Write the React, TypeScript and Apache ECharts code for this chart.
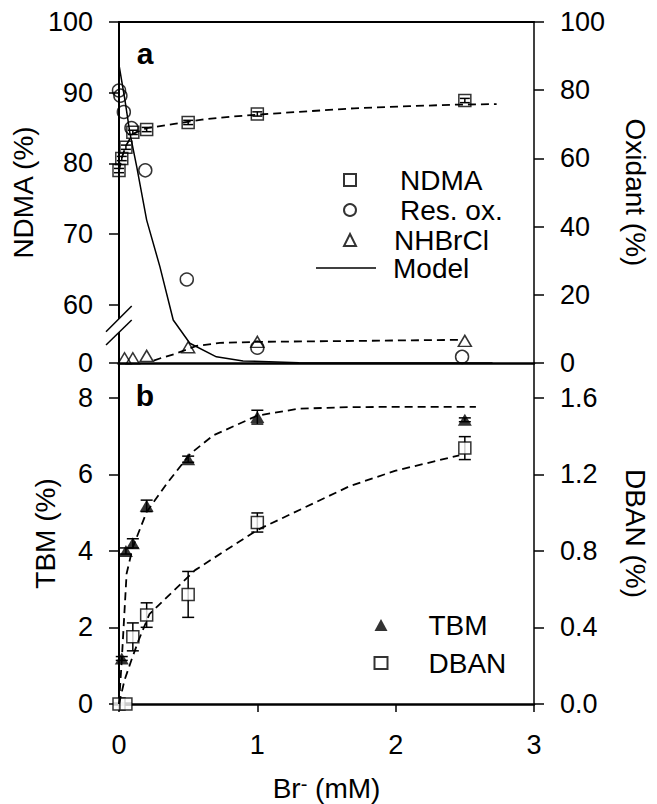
import React, { useEffect, useRef } from "react";
import * as echarts from "echarts";

// ---------- Panel a data ----------
const xNdma = [0, 0.02, 0.05, 0.1, 0.2, 0.5, 1.0, 2.5];
const yNdma = [79.0, 80.7, 82.3, 84.4, 84.8, 85.8, 87.0, 88.9];
const errNdma = [0.3, 0.3, 0.3, 0.3, 0.3, 0.3, 0.3, 0.3];

const xNdmaFit = [0, 0.02, 0.05, 0.1, 0.2, 0.4, 0.6, 0.8, 1.0, 1.3, 1.7, 2.1, 2.4, 2.73];
const yNdmaFit = [79.0, 80.8, 82.5, 84.2, 85.0, 85.6, 86.2, 86.6, 86.9, 87.3, 87.8, 88.1, 88.3, 88.4];

const xRes = [0, 0.01, 0.035, 0.09, 0.19, 0.49, 1.0, 2.48];
const yRes = [79.9, 78.4, 73.6, 68.9, 56.5, 24.5, 4.5, 1.8];

const xNh = [0.04, 0.1, 0.2, 0.5, 1.0, 2.5];
const yNh = [1.4, 1.4, 2.1, 4.6, 6.2, 6.5];

const xNhFit = [0.25, 0.3, 0.4, 0.56, 0.73, 1.0, 1.5, 2.0, 2.47];
const yNhFit = [0.7, 1.4, 2.6, 5.0, 5.9, 6.2, 6.4, 6.6, 6.8];

const xModel = [0, 0.043, 0.079, 0.128, 0.2, 0.296, 0.392, 0.512, 0.704, 0.897, 1.3, 2.0, 2.7];
const yModel = [87.4, 77.1, 67.4, 57.6, 41.9, 28.2, 12.6, 5.8, 1.8, 0.6, 0.1, 0, 0];

// ---------- Panel b data ----------
const xTbm = [0.02, 0.05, 0.1, 0.2, 0.5, 1.0, 2.5];
const yTbm = [1.19, 4.0, 4.2, 5.18, 6.4, 7.5, 7.43];
const errTbm = [0.05, 0.08, 0.12, 0.15, 0.08, 0.18, 0.05];

const xTbmFit = [0, 0.02, 0.055, 0.1, 0.2, 0.345, 0.515, 0.68, 1.0, 1.3, 1.66, 2.0, 2.58];
const yTbmFit = [0, 1.15, 3.41, 4.1, 5.02, 5.76, 6.54, 7.02, 7.54, 7.72, 7.76, 7.77, 7.77];

const xDban = [0, 0.05, 0.1, 0.2, 0.5, 1.0, 2.5];
const yDban = [0, 0, 0.351, 0.465, 0.573, 0.949, 1.338];
const errDban = [0.005, 0.005, 0.073, 0.064, 0.12, 0.05, 0.06];

const xDbanFit = [0, 0.04, 0.09, 0.14, 0.22, 0.55, 1.0, 1.67, 2.0, 2.46];
const yDbanFit = [0, 0.125, 0.23, 0.33, 0.47, 0.7, 0.91, 1.14, 1.22, 1.3];

// ---------- tick labels ----------
const ndmaTicks = [51.8, 60, 70, 80, 90, 100];
const oxTicks = [0, 20, 40, 60, 80, 100];
const tbmTicks = [0, 2, 4, 6, 8];
const dbanTicks = [0, 0.4, 0.8, 1.2, 1.6];
const xTicks = [0, 1, 2, 3];

const FONT = '"Liberation Sans", Arial, sans-serif';
const BLACK = "#000";

const pairs = (xs: number[], ys: number[]) => xs.map((x, i) => [x, ys[i]]);
const errs = (xs: number[], ys: number[], es: number[]) =>
  xs.map((x, i) => [x, ys[i] - es[i], ys[i] + es[i]]);

function errorBarSeries(data: number[][], xi: number, yi: number, capHalf: number) {
  return {
    type: "custom",
    xAxisIndex: xi,
    yAxisIndex: yi,
    silent: true,
    data,
    renderItem: (_p: any, api: any) => {
      const x = api.value(0);
      const lo = api.coord([x, api.value(1)]);
      const hi = api.coord([x, api.value(2)]);
      const st = { stroke: BLACK, lineWidth: 1.5, fill: "none" };
      return {
        type: "group",
        children: [
          { type: "line", shape: { x1: lo[0], y1: lo[1], x2: hi[0], y2: hi[1] }, style: st },
          { type: "line", shape: { x1: lo[0] - capHalf, y1: lo[1], x2: lo[0] + capHalf, y2: lo[1] }, style: st },
          { type: "line", shape: { x1: hi[0] - capHalf, y1: hi[1], x2: hi[0] + capHalf, y2: hi[1] }, style: st },
        ],
      };
    },
  };
}

const tickLabel = { color: BLACK, fontSize: 27, fontFamily: FONT };
const titleStyle = { color: BLACK, fontSize: 28, fontFamily: FONT };

export default function App() {
  const ref = useRef<HTMLDivElement>(null);

  useEffect(() => {
    document.body.style.margin = "0";
    if (!ref.current) return;
    const chart = echarts.init(ref.current, undefined, { renderer: "svg" });

    const dashed = { color: BLACK, width: 1.8, type: [8, 5] as any };
    const openStyle = { color: "rgba(0,0,0,0)", borderColor: BLACK, borderWidth: 1.5 };

    const option: any = {
      animation: false,
      backgroundColor: "#fff",
      grid: [
        { left: 119, top: 22, width: 417, height: 341 },
        { left: 119, top: 363, width: 417, height: 341 },
      ],
      xAxis: [
        {
          gridIndex: 0, type: "value", min: 0, max: 3, position: "bottom",
          axisLine: { show: true, onZero: false, lineStyle: { color: BLACK, width: 2.5 } },
          axisTick: { show: false }, axisLabel: { show: false }, splitLine: { show: false },
        },
        {
          gridIndex: 0, type: "value", min: 0, max: 3, position: "top",
          axisLine: { show: true, onZero: false, lineStyle: { color: BLACK, width: 2 } },
          axisTick: { show: false }, axisLabel: { show: false }, splitLine: { show: false },
        },
        {
          gridIndex: 1, type: "value", min: 0, max: 3, position: "bottom",
          axisLine: { show: true, onZero: false, lineStyle: { color: BLACK, width: 2.5 } },
          axisTick: { show: true, length: 8, customValues: xTicks, lineStyle: { color: BLACK, width: 1.5 } },
          axisLabel: { ...tickLabel, margin: 27, customValues: xTicks },
          splitLine: { show: false },
          name: "{n|Br}{s|-}{n| (mM)}",
          nameLocation: "middle",
          nameGap: 70,
          nameTextStyle: {
            ...titleStyle,
            rich: {
              n: { fontSize: 28, fontFamily: FONT, color: BLACK },
              s: { fontSize: 20, fontFamily: FONT, color: BLACK, verticalAlign: "top", lineHeight: 14 },
            },
          },
        },
      ],
      yAxis: [
        {
          gridIndex: 0, type: "value", min: 51.8, max: 100, position: "left",
          axisLine: { show: true, onZero: false, lineStyle: { color: BLACK, width: 2 } },
          axisTick: { show: true, length: 10, customValues: ndmaTicks, lineStyle: { color: BLACK, width: 1.5 } },
          axisLabel: {
            ...tickLabel, margin: 26, customValues: ndmaTicks,
            formatter: (v: number) => (v < 55 ? "0" : String(v)),
          },
          splitLine: { show: false },
          name: "NDMA (%)", nameLocation: "middle", nameRotate: 90, nameGap: 78, nameTextStyle: titleStyle,
        },
        {
          gridIndex: 0, type: "value", min: 0, max: 100, position: "right",
          axisLine: { show: true, onZero: false, lineStyle: { color: BLACK, width: 1.5 } },
          axisTick: { show: true, length: 10, customValues: oxTicks, lineStyle: { color: BLACK, width: 1.5 } },
          axisLabel: { ...tickLabel, margin: 26, customValues: oxTicks },
          splitLine: { show: false },
          name: "Oxidant (%)", nameLocation: "middle", nameRotate: -90, nameGap: 87, nameTextStyle: titleStyle,
        },
        {
          gridIndex: 1, type: "value", min: 0, max: 8.915, position: "left",
          axisLine: { show: true, onZero: false, lineStyle: { color: BLACK, width: 2 } },
          axisTick: { show: true, length: 10, customValues: tbmTicks, lineStyle: { color: BLACK, width: 1.5 } },
          axisLabel: { ...tickLabel, margin: 26, customValues: tbmTicks },
          splitLine: { show: false },
          name: "TBM (%)", nameLocation: "middle", nameRotate: 90, nameGap: 60, nameTextStyle: titleStyle,
        },
        {
          gridIndex: 1, type: "value", min: 0, max: 1.783, position: "right",
          axisLine: { show: true, onZero: false, lineStyle: { color: BLACK, width: 1.5 } },
          axisTick: { show: true, length: 10, customValues: dbanTicks, lineStyle: { color: BLACK, width: 1.5 } },
          axisLabel: { ...tickLabel, margin: 26, customValues: dbanTicks, formatter: (v: number) => v.toFixed(1) },
          splitLine: { show: false },
          name: "DBAN (%)", nameLocation: "middle", nameRotate: -90, nameGap: 87, nameTextStyle: titleStyle,
        },
      ],
      legend: [
        {
          orient: "vertical", left: 343, top: 165.5, padding: 0, itemGap: 1,
          itemWidth: 12, itemHeight: 12, selectedMode: false,
          textStyle: { ...titleStyle, lineHeight: 29 },
          data: [
            { name: "NDMA", textStyle: { padding: [0, 0, 0, 39] } },
            { name: "Res. ox.", textStyle: { padding: [0, 0, 0, 39] } },
            { name: "NHBrCl", textStyle: { padding: [0, 0, 0, 33] } },
          ],
        },
        {
          orient: "vertical", left: 316, top: 253.5, padding: 0, itemGap: 0,
          itemWidth: 60, itemHeight: 1.5, selectedMode: false,
          textStyle: { ...titleStyle, lineHeight: 29 },
          data: [
            { name: "Model", icon: "rect", itemStyle: { color: BLACK, borderWidth: 0 }, textStyle: { padding: [0, 0, 0, 12] } },
          ],
        },
        {
          orient: "vertical", left: 373.5, top: 610.5, padding: 0, itemGap: 9,
          itemWidth: 13, itemHeight: 12, selectedMode: false,
          textStyle: { ...titleStyle, lineHeight: 29 },
          data: [
            { name: "TBM", textStyle: { padding: [0, 0, 0, 36] } },
            { name: "DBAN", textStyle: { padding: [0, 0, 0, 36] } },
          ],
        },
      ],
      graphic: [
        {
          type: "text", x: 145, y: 53, silent: true,
          style: { text: "a", fontSize: 30, fontWeight: "bold", fontFamily: FONT, fill: BLACK, align: "center", verticalAlign: "middle" },
        },
        {
          type: "text", x: 145, y: 395, silent: true,
          style: { text: "b", fontSize: 30, fontWeight: "bold", fontFamily: FONT, fill: BLACK, align: "center", verticalAlign: "middle" },
        },
        {
          type: "polygon", silent: true, z: 100,
          shape: { points: [[106, 331.7], [131.7, 306], [131.7, 320], [106, 345]] },
          style: { fill: "#fff", stroke: "none" },
        },
        {
          type: "line", silent: true, z: 101,
          shape: { x1: 106, y1: 331.7, x2: 131.7, y2: 306 },
          style: { stroke: BLACK, lineWidth: 1.5 },
        },
        {
          type: "line", silent: true, z: 101,
          shape: { x1: 106, y1: 345, x2: 131.7, y2: 320 },
          style: { stroke: BLACK, lineWidth: 1.5 },
        },
      ],
      series: [
        // ---- panel a ----
        errorBarSeries(errs(xNdma, yNdma, errNdma), 0, 0, 5),
        {
          name: "NDMA fit", type: "line", xAxisIndex: 0, yAxisIndex: 0, data: pairs(xNdmaFit, yNdmaFit),
          symbol: "none", lineStyle: dashed, silent: true,
        },
        {
          name: "NHBrCl fit", type: "line", xAxisIndex: 0, yAxisIndex: 1, data: pairs(xNhFit, yNhFit),
          symbol: "none", lineStyle: dashed, silent: true,
        },
        {
          name: "Model", type: "line", xAxisIndex: 0, yAxisIndex: 1, data: pairs(xModel, yModel),
          symbol: "none", lineStyle: { color: BLACK, width: 1.5 }, itemStyle: { color: BLACK }, silent: true,
        },
        {
          name: "NDMA", type: "scatter", xAxisIndex: 0, yAxisIndex: 0, data: pairs(xNdma, yNdma),
          symbol: "rect", symbolSize: 12, itemStyle: openStyle, clip: false,
        },
        {
          name: "Res. ox.", type: "scatter", xAxisIndex: 0, yAxisIndex: 1, data: pairs(xRes, yRes),
          symbol: "circle", symbolSize: 13, itemStyle: openStyle, clip: false,
        },
        {
          name: "NHBrCl", type: "scatter", xAxisIndex: 0, yAxisIndex: 1, data: pairs(xNh, yNh),
          symbol: "triangle", symbolSize: [13, 11], itemStyle: openStyle, clip: false,
        },
        // ---- panel b ----
        errorBarSeries(errs(xTbm, yTbm, errTbm), 2, 2, 6),
        errorBarSeries(errs(xDban, yDban, errDban), 2, 3, 6),
        {
          name: "TBM fit", type: "line", xAxisIndex: 2, yAxisIndex: 2, data: pairs(xTbmFit, yTbmFit),
          symbol: "none", lineStyle: dashed, silent: true,
        },
        {
          name: "DBAN fit", type: "line", xAxisIndex: 2, yAxisIndex: 3, data: pairs(xDbanFit, yDbanFit),
          symbol: "none", lineStyle: dashed, silent: true,
        },
        {
          name: "TBM", type: "scatter", xAxisIndex: 2, yAxisIndex: 2, data: pairs(xTbm, yTbm),
          symbol: "triangle", symbolSize: [14, 12], itemStyle: { color: BLACK }, clip: false,
        },
        {
          name: "DBAN", type: "scatter", xAxisIndex: 2, yAxisIndex: 3, data: pairs(xDban, yDban),
          symbol: "rect", symbolSize: 12, itemStyle: { color: "#fff", borderColor: BLACK, borderWidth: 1.5 }, clip: false,
        },
      ],
    };

    chart.setOption(option);
    return () => chart.dispose();
  }, []);

  return <div ref={ref} style={{ width: 657, height: 804 }} />;
}
